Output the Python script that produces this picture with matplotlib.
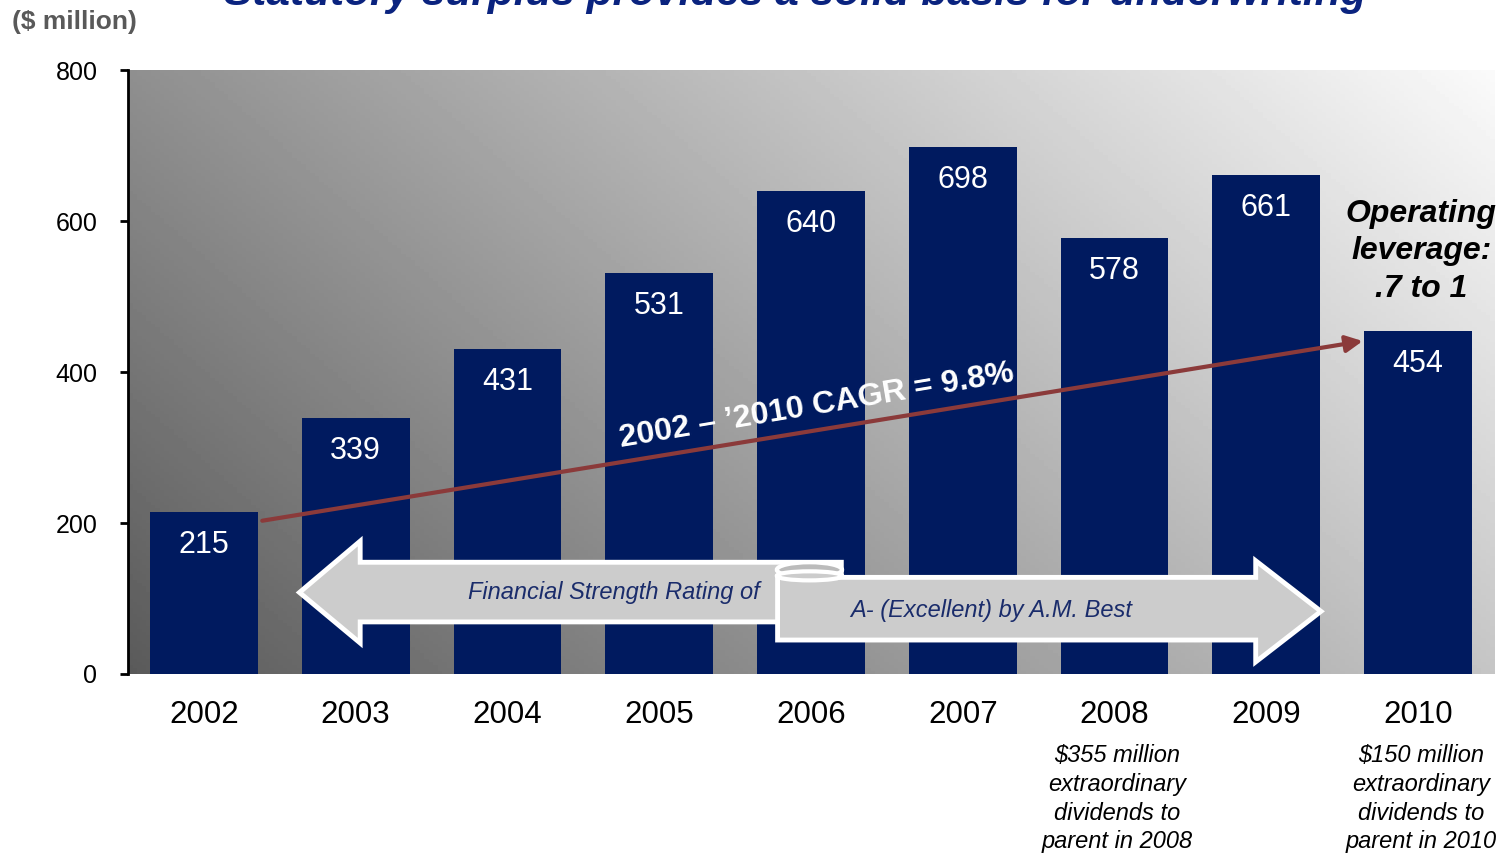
import matplotlib
matplotlib.use("Agg")
import matplotlib.pyplot as plt
from matplotlib.patches import Polygon, Ellipse
import numpy as np

plt.rcParams['font.family'] = ['Liberation Sans', 'DejaVu Sans']

years = ["2002", "2003", "2004", "2005", "2006", "2007", "2008", "2009", "2010"]
surplus = [215, 339, 431, 531, 640, 698, 578, 661, 454]
yticks = [0, 200, 400, 600, 800]
notes = {6: "$355 million\nextraordinary\ndividends to\nparent in 2008",
         8: "$150 million\nextraordinary\ndividends to\nparent in 2010"}
cagr_label = "2002 \u2013 \u20192010 CAGR = 9.8%"
title = "Statutory surplus provides a solid basis for underwriting"
rating_left = "Financial Strength Rating of"
rating_right = "A- (Excellent) by A.M. Best"
leverage = "Operating\nleverage:\n.7 to 1"

navy = "#001A5F"
bar_w = 0.71

fig = plt.figure(figsize=(15, 8.55), dpi=100)
ax = fig.add_axes([0.0853, 0.2117, 0.9107, 0.7064])

# diagonal grey gradient behind the bars
u = np.linspace(0, 1, 300)
v = np.linspace(0, 1, 200)
U, V = np.meshgrid(u, v)
grad = 90 + 107 * U + 53 * V
ax.imshow(grad, extent=[0, 1, 0, 1], transform=ax.transAxes, origin="lower",
          aspect="auto", cmap="gray", vmin=0, vmax=255, zorder=0)

x = np.arange(len(years))
ax.bar(x, surplus, width=bar_w, color=navy, zorder=2)
for xi, val in zip(x, surplus):
    ax.text(xi, val - 44, str(val), ha="center", va="center", color="white",
            fontsize=22, zorder=5)

ax.set_xlim(-0.5, len(years) - 0.5)
ax.set_ylim(0, 800)
ax.set_yticks(yticks)
ax.set_xticks(x)
ax.set_xticklabels(years, fontsize=22.5)
ax.tick_params(axis="x", length=0, pad=19)
ax.tick_params(axis="y", labelsize=18, length=6, width=2, direction="out", pad=16)
for s in ["top", "right", "bottom"]:
    ax.spines[s].set_visible(False)
ax.spines["left"].set_linewidth(2)

# CAGR arrow from first to last bar
ax.annotate("", xy=(8 - bar_w / 2 - 0.01, surplus[-1] - 13),
            xytext=(bar_w / 2 + 0.03, surplus[0] - 12),
            arrowprops=dict(arrowstyle="-|>", color="#8B3A3A", lw=3,
                            mutation_scale=25, shrinkA=0, shrinkB=0), zorder=6)
ax.text(4.04, 355, cagr_label, rotation=9.5, ha="center", va="center",
        color="white", fontsize=23, fontweight="bold", zorder=7,
        rotation_mode="anchor")

# rating banner arrows
left_arrow = Polygon([(0.63, 108), (1.03, 176), (1.03, 148), (4.2, 148),
                      (4.2, 69), (1.03, 69), (1.03, 41)], closed=True,
                     facecolor="#CCCCCC", edgecolor="white", lw=3.5, zorder=8)
ax.add_patch(left_arrow)
ax.add_patch(Ellipse((3.99, 138), 0.43, 20, facecolor="#BBBBBB", edgecolor="white",
                     lw=3, zorder=8.5))
right_arrow = Polygon([(3.78, 128), (6.93, 128), (6.93, 150), (7.36, 83),
                       (6.93, 16), (6.93, 45), (3.78, 45)], closed=True,
                      facecolor="#CCCCCC", edgecolor="white", lw=3.5, zorder=9)
ax.add_patch(right_arrow)
ax.add_patch(Ellipse((3.99, 130), 0.43, 12, facecolor="#CCCCCC", edgecolor="white",
                     lw=3, zorder=9.5))
ax.text(2.7, 108, rating_left, ha="center", va="center", color="#1A2C6B",
        fontsize=17, style="italic", zorder=10)
ax.text(5.19, 84, rating_right, ha="center", va="center", color="#1A2C6B",
        fontsize=17, style="italic", zorder=10)

ax.text(8.02, 560, leverage, ha="center", va="center", fontsize=23,
        fontweight="bold", style="italic", color="black", linespacing=1.32, zorder=10)

for i, note in notes.items():
    ax.text(i + 0.02, -93, note, ha="center", va="top", fontsize=17,
            style="italic", color="black", linespacing=1.32, clip_on=False)

fig.text(0.008, 0.974, "($ million)", ha="left", va="center", fontsize=19,
         fontweight="bold", color="#595959")
fig.text(0.53, 1 - 5 / 855, title, ha="center", va="baseline", fontsize=30.5,
         fontweight="bold", style="italic", color="#0A237F")

fig.savefig("out.png", dpi=100)
